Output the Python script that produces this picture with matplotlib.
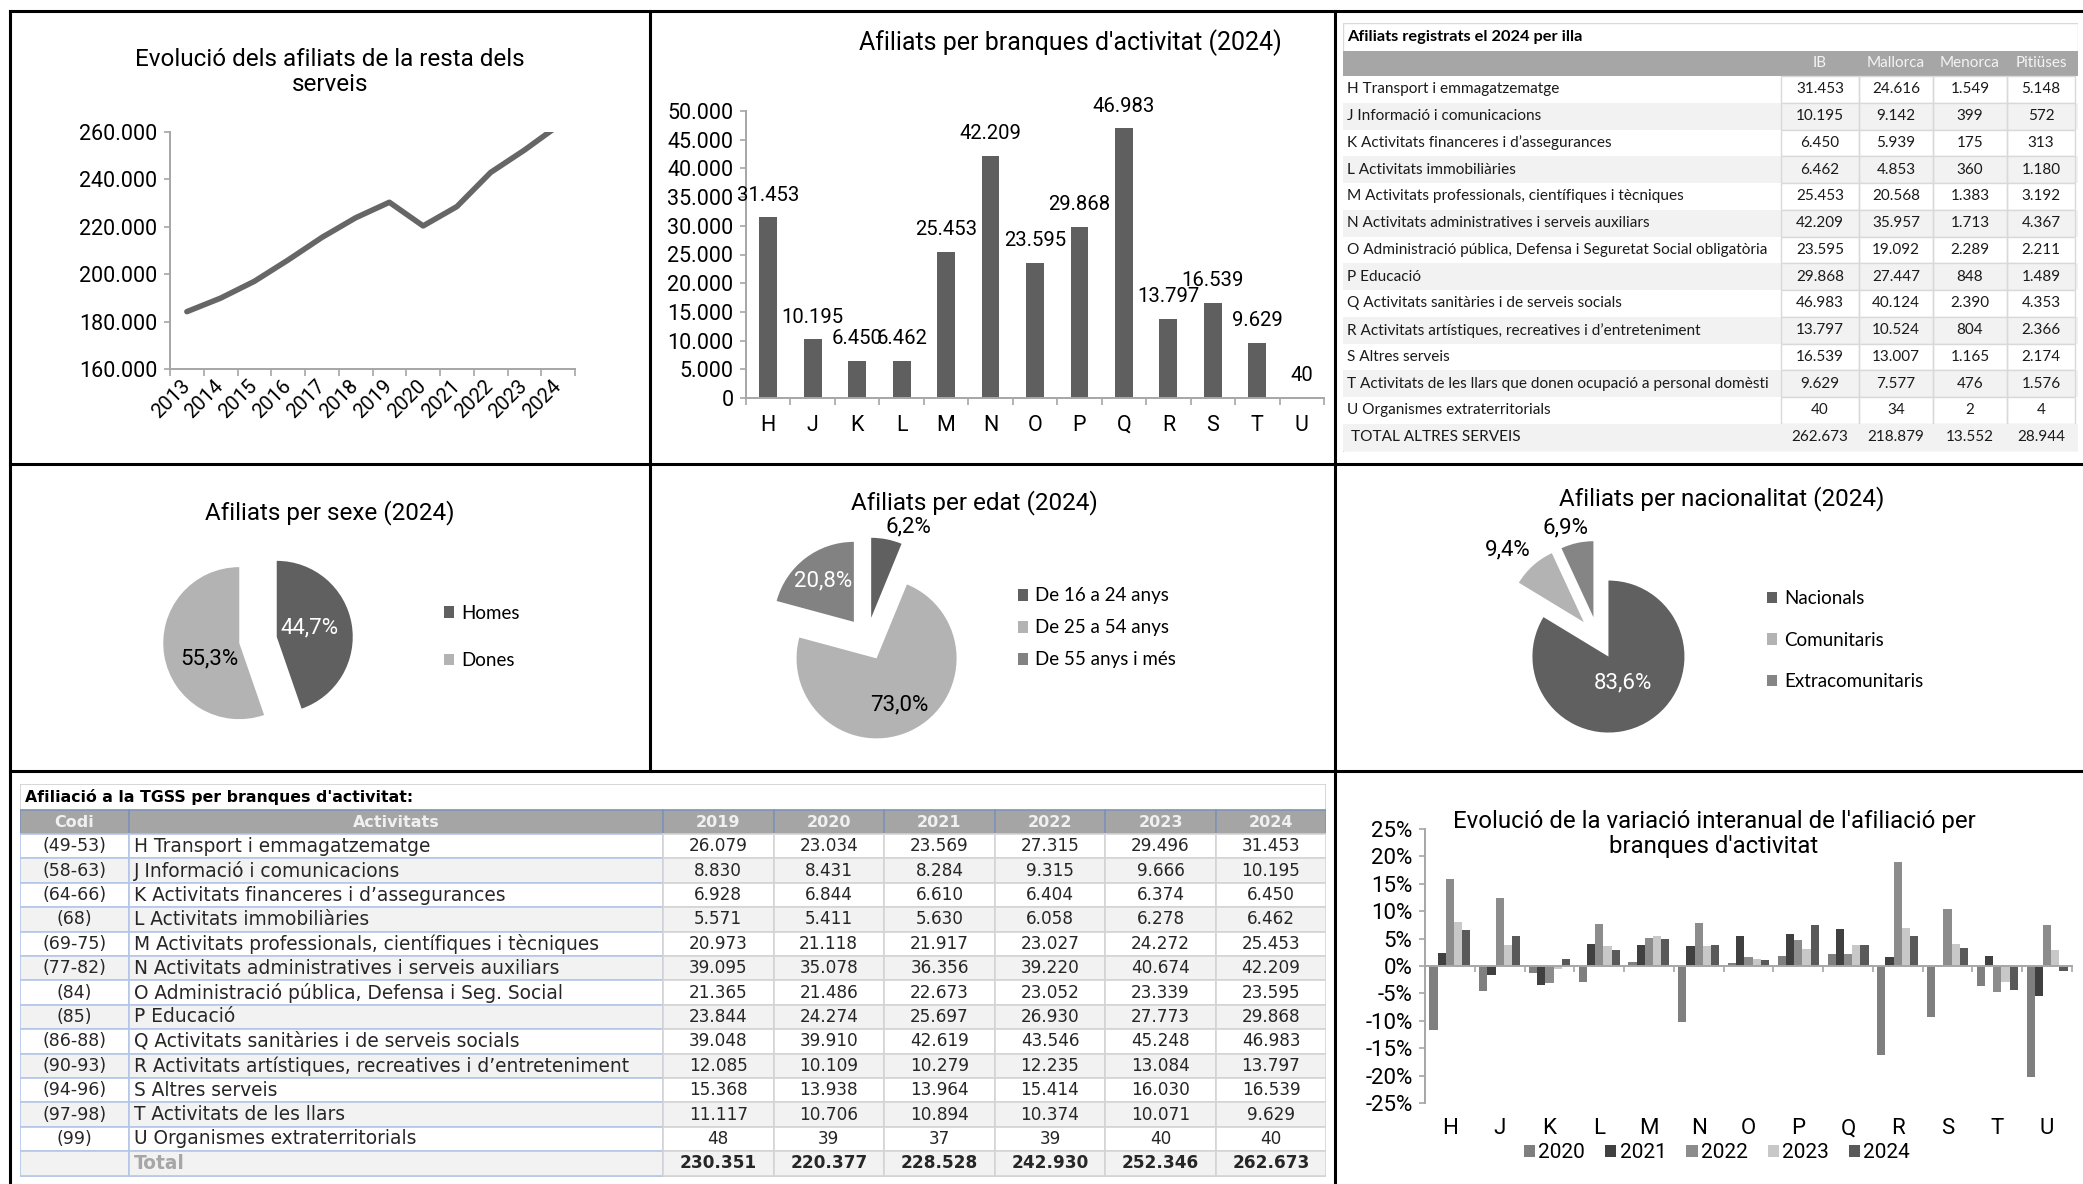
import numpy as np
import matplotlib
matplotlib.use('Agg')
import matplotlib.pyplot as plt
from matplotlib.patches import Rectangle
from matplotlib.lines import Line2D
from matplotlib.ticker import FuncFormatter

plt.rcParams['font.family'] = ['Roboto', 'DejaVu Sans']

# =====================================================================
# DATA
# =====================================================================
years_line = ['2013', '2014', '2015', '2016', '2017', '2018',
              '2019', '2020', '2021', '2022', '2023', '2024']
total_afiliats = [184200, 189900, 197000, 206000, 215500, 223800,
                  230351, 220377, 228528, 242930, 252346, 262673]

branques = ['H', 'J', 'K', 'L', 'M', 'N', 'O', 'P', 'Q', 'R', 'S', 'T', 'U']
afiliats_2024 = [31453, 10195, 6450, 6462, 25453, 42209, 23595,
                 29868, 46983, 13797, 16539, 9629, 40]

sexe_labels = ['Homes', 'Dones']
sexe_pct = [44.7, 55.3]
edat_labels = ['De 16 a 24 anys', 'De 25 a 54 anys', 'De 55 anys i més']
edat_pct = [6.2, 73.0, 20.8]
nac_labels = ['Nacionals', 'Comunitaris', 'Extracomunitaris']
nac_pct = [83.6, 9.4, 6.9]

# Afiliats registrats el 2024 per illa
illa_cols = ['IB', 'Mallorca', 'Menorca', 'Pitiüses']
illa_rows = ['H Transport i emmagatzematge',
             'J Informació i comunicacions',
             'K Activitats financeres i d’assegurances',
             'L Activitats immobiliàries',
             'M Activitats professionals, científiques i tècniques',
             'N Activitats administratives i serveis auxiliars',
             'O Administració pública, Defensa i Seguretat Social obligatòria',
             'P Educació',
             'Q Activitats sanitàries i de serveis socials',
             'R Activitats artístiques, recreatives i d’entreteniment',
             'S Altres serveis',
             'T Activitats de les llars que donen ocupació a personal domèsti',
             'U Organismes extraterritorials',
             'TOTAL ALTRES SERVEIS']
illa_ib = [31453, 10195, 6450, 6462, 25453, 42209, 23595, 29868, 46983,
           13797, 16539, 9629, 40, 262673]
illa_mallorca = [24616, 9142, 5939, 4853, 20568, 35957, 19092, 27447, 40124,
                 10524, 13007, 7577, 34, 218879]
illa_menorca = [1549, 399, 175, 360, 1383, 1713, 2289, 848, 2390,
                804, 1165, 476, 2, 13552]
illa_pitiuses = [5148, 572, 313, 1180, 3192, 4367, 2211, 1489, 4353,
                 2366, 2174, 1576, 4, 28944]

# Afiliació a la TGSS per branques d'activitat
tgss_codi = ['(49-53)', '(58-63)', '(64-66)', '(68)', '(69-75)', '(77-82)', '(84)',
             '(85)', '(86-88)', '(90-93)', '(94-96)', '(97-98)', '(99)', '']
tgss_activitats = ['H Transport i emmagatzematge',
                   'J Informació i comunicacions',
                   'K Activitats financeres i d’assegurances',
                   'L Activitats immobiliàries',
                   'M Activitats professionals, científiques i tècniques',
                   'N Activitats administratives i serveis auxiliars',
                   'O Administració pública, Defensa i Seg. Social',
                   'P Educació',
                   'Q Activitats sanitàries i de serveis socials',
                   'R Activitats artístiques, recreatives i d’entreteniment',
                   'S Altres serveis',
                   'T Activitats de les llars',
                   'U Organismes extraterritorials',
                   'Total']
tgss_years = ['2019', '2020', '2021', '2022', '2023', '2024']
tgss_2019 = [26079, 8830, 6928, 5571, 20973, 39095, 21365, 23844, 39048, 12085, 15368, 11117, 48, 230351]
tgss_2020 = [23034, 8431, 6844, 5411, 21118, 35078, 21486, 24274, 39910, 10109, 13938, 10706, 39, 220377]
tgss_2021 = [23569, 8284, 6610, 5630, 21917, 36356, 22673, 25697, 42619, 10279, 13964, 10894, 37, 228528]
tgss_2022 = [27315, 9315, 6404, 6058, 23027, 39220, 23052, 26930, 43546, 12235, 15414, 10374, 39, 242930]
tgss_2023 = [29496, 9666, 6374, 6278, 24272, 40674, 23339, 27773, 45248, 13084, 16030, 10071, 40, 252346]
tgss_2024 = [31453, 10195, 6450, 6462, 25453, 42209, 23595, 29868, 46983, 13797, 16539, 9629, 40, 262673]

# Variació interanual (%)
var_years = ['2020', '2021', '2022', '2023', '2024']
var_2020 = [-11.7, -4.5, -1.2, -2.9, 0.7, -10.3, 0.6, 1.8, 2.2, -16.3, -9.3, -3.7, -20.3]
var_2021 = [2.3, -1.7, -3.4, 4.0, 3.8, 3.6, 5.5, 5.9, 6.8, 1.7, 0.2, 1.8, -5.4]
var_2022 = [15.9, 12.4, -3.1, 7.6, 5.1, 7.9, 1.7, 4.8, 2.2, 19.0, 10.4, -4.8, 7.5]
var_2023 = [8.0, 3.8, -0.5, 3.6, 5.4, 3.7, 1.2, 3.1, 3.9, 6.9, 4.0, -2.9, 3.0]
var_2024 = [6.6, 5.5, 1.2, 2.9, 4.9, 3.8, 1.1, 7.5, 3.8, 5.5, 3.2, -4.4, -1.0]

# =====================================================================
# HELPERS
# =====================================================================
W, H = 2083, 1184
fig = plt.figure(figsize=(W / 100, H / 100), dpi=100)

AXIS_GREY = '#a6a6a6'
DARK, LIGHT, MID = '#606060', '#b3b3b3', '#828282'
TICK_FS = 15.5
TITLE_FS = 17.5


def px_axes(x0, y0, x1, y1):
    ax = fig.add_axes([x0 / W, 1 - y1 / H, (x1 - x0) / W, (y1 - y0) / H])
    ax.set_facecolor('none')
    return ax


def fig_xy(x, y):
    return x / W, 1 - y / H


def thousands(v):
    return f'{v:,.0f}'.replace(',', '.')


def pct_comma(p):
    return f'{p:.1f}%'.replace('.', ',')


def style_axes(ax):
    for s in ('top', 'right'):
        ax.spines[s].set_visible(False)
    for s in ('left', 'bottom'):
        ax.spines[s].set_color(AXIS_GREY)
        ax.spines[s].set_linewidth(1.4)
    ax.tick_params(axis='y', length=4, width=1.2, color=AXIS_GREY, labelsize=TICK_FS, pad=5)


def category_axis(ax, n):
    ax.set_xlim(-0.5, n - 0.5)
    ax.set_xticks(np.arange(n))
    ax.set_xticks(np.arange(n + 1) - 0.5, minor=True)
    ax.tick_params(axis='x', which='major', length=0, labelsize=TICK_FS)
    ax.tick_params(axis='x', which='minor', length=5, width=1.2, color=AXIS_GREY)


def pie_axes(cx, cy, r):
    L = 1.6
    return px_axes(cx - L * r, cy - L * r, cx + L * r, cy + L * r)


def fix_pie_limits(ax):
    # pie() resets the limits, so set them afterwards
    ax.set_xlim(-1.6, 1.6)
    ax.set_ylim(-1.6, 1.6)
    ax.set_aspect('equal')
    ax.axis('off')


def label_wedges(ax, wedges, values, dists, turns, colors):
    for w, v, d, t, c in zip(wedges, values, dists, turns, colors):
        th = np.deg2rad((w.theta1 + w.theta2) / 2 + t)
        x0, y0 = w.center
        ax.text(x0 + d * w.r * np.cos(th), y0 + d * w.r * np.sin(th), pct_comma(v),
                ha='center', va='center', color=c, fontsize=16)


def pie_legend(ax, wedges, labels, xy, spacing):
    ax.legend(wedges, labels, loc='center left', bbox_to_anchor=fig_xy(*xy),
              bbox_transform=fig.transFigure, frameon=False,
              prop=dict(family='Lato', size=13.5), handlelength=0.55, handleheight=0.55,
              handletextpad=0.35, labelspacing=spacing, borderpad=0, borderaxespad=0)


# =====================================================================
# PANEL FRAME
# =====================================================================
for xa, ya, xb_, yb in [(10, 11, W, 11), (10, 11, 10, H), (10, 464, W, 464),
                        (10, 771, W, 771), (650, 11, 650, 771), (1335, 11, 1335, H)]:
    fig.add_artist(Line2D([xa / W, xb_ / W], [1 - ya / H, 1 - yb / H],
                          color='black', lw=2.2, solid_capstyle='projecting'))

# =====================================================================
# 1. LINE CHART
# =====================================================================
ax1 = px_axes(170, 132, 575, 369)
style_axes(ax1)
ax1.plot(np.arange(len(years_line)), total_afiliats, color='#666666', lw=4,
         solid_joinstyle='round', solid_capstyle='round')
ax1.set_ylim(160000, 260000)
ax1.set_yticks(np.arange(160000, 260001, 20000))
ax1.yaxis.set_major_formatter(FuncFormatter(lambda v, _: thousands(v)))
category_axis(ax1, len(years_line))
ax1.set_xticklabels(years_line, rotation=45, ha='right', va='center',
                    rotation_mode='anchor', fontsize=14.5)
ax1.tick_params(axis='x', which='major', pad=10)
fig.text(*fig_xy(330, 72), 'Evolució dels afiliats de la resta dels\nserveis',
         ha='center', va='center', fontsize=TITLE_FS, linespacing=1.15)

# =====================================================================
# 2. BAR CHART 2024
# =====================================================================
ax2 = px_axes(746, 111, 1324, 398)
style_axes(ax2)
xb = np.arange(len(branques))
ax2.bar(xb, afiliats_2024, width=0.4, color='#5f5f5f')
ax2.set_ylim(0, 50000)
ax2.set_yticks(np.arange(0, 50001, 5000))
ax2.yaxis.set_major_formatter(FuncFormatter(lambda v, _: thousands(v)))
category_axis(ax2, len(branques))
ax2.set_xticklabels(branques)
ax2.tick_params(axis='x', which='major', pad=12)
for xi, v in zip(xb, afiliats_2024):
    ax2.annotate(thousands(v), (xi, v), xytext=(0, 16), textcoords='offset points',
                 ha='center', va='center', fontsize=14.6)
fig.text(*fig_xy(1070, 43), "Afiliats per branques d'activitat (2024)",
         ha='center', va='center', fontsize=TITLE_FS + 0.5)

# =====================================================================
# 3. PIES
# =====================================================================
ax_p1 = pie_axes(258, 640, 76)
w1, _ = ax_p1.pie(sexe_pct, colors=[DARK, LIGHT], startangle=90, counterclock=False,
                  explode=[0.25, 0.25])
fix_pie_limits(ax_p1)
label_wedges(ax_p1, w1, sexe_pct, [0.45, 0.44], [6, 18], ['white', 'black'])
pie_legend(ax_p1, w1, sexe_labels, (444, 637), 1.63)
fig.text(*fig_xy(330, 513), 'Afiliats per sexe (2024)', ha='center', va='center',
         fontsize=TITLE_FS)

ax_p2 = pie_axes(867, 639, 80)
w2, _ = ax_p2.pie(edat_pct, colors=[DARK, LIGHT, MID], startangle=90, counterclock=False,
                  explode=[0.27, 0.27, 0.27])
fix_pie_limits(ax_p2)
label_wedges(ax_p2, w2, edat_pct, [1.22, 0.65, 0.64], [-11, 0, 0], ['black', 'black', 'white'])
pie_legend(ax_p2, w2, edat_labels, (1018, 628), 0.8)
fig.text(*fig_xy(974, 503), 'Afiliats per edat (2024)', ha='center', va='center',
         fontsize=TITLE_FS)

ax_p3 = pie_axes(1598, 638, 76)
w3, _ = ax_p3.pie(nac_pct, colors=[DARK, LIGHT, '#858585'], startangle=90, counterclock=False,
                  explode=[0.28, 0.28, 0.28])
fix_pie_limits(ax_p3)
label_wedges(ax_p3, w3, nac_pct, [0.4, 1.38, 1.23], [0, 5, 5], ['white', 'black', 'black'])
pie_legend(ax_p3, w3, nac_labels, (1767, 640), 1.3)
fig.text(*fig_xy(1722, 499), 'Afiliats per nacionalitat (2024)', ha='center', va='center',
         fontsize=TITLE_FS)

# =====================================================================
# 4. TABLE: AFILIATS PER ILLA
# =====================================================================
ax5 = px_axes(1343, 23, 2078, 452)
ax5.set_xlim(0, 735)
ax5.set_ylim(429, 0)
ax5.axis('off')
ic = [0, 438, 516, 590, 664, 732]
head_top, head_h, row_h = 27.5, 25.5, 26.75
ax5.add_patch(Rectangle((0, 0), 735, 429, fc='white', ec='#d9d9d9', lw=1))
ax5.text(4, 14, 'Afiliats registrats el 2024 per illa', fontweight='bold', fontsize=11.8,
         family='Lato', va='center')
ax5.add_patch(Rectangle((0, head_top), 735, head_h, fc='#a6a6a6', ec='none'))
for j, name in enumerate(illa_cols):
    ax5.text((ic[j + 1] + ic[j + 2]) / 2, head_top + head_h / 2, name, ha='center',
             va='center', fontsize=11, family='Lato', color='#f4f4f4')
illa_values = list(zip(illa_ib, illa_mallorca, illa_menorca, illa_pitiuses))
for i, (label, vals) in enumerate(zip(illa_rows, illa_values)):
    y0 = head_top + head_h + i * row_h
    total = i == len(illa_rows) - 1
    ax5.add_patch(Rectangle((0, y0), 735, row_h, fc='#f2f2f2' if i % 2 else 'white', ec='none'))
    ax5.text(8 if total else 4, y0 + row_h / 2, label, va='center', fontsize=11.1,
             family='Lato', color='#1a1a1a')
    for j, v in enumerate(vals):
        xa, xz = ic[j + 1], ic[j + 2]
        if not total:
            ax5.add_patch(Rectangle((xa, y0), xz - xa, row_h, fc='none', ec='#d9d9d9', lw=1))
        ax5.text((xa + xz) / 2, y0 + row_h / 2, thousands(v), ha='center', va='center',
                 fontsize=11, family='Lato', color='#1a1a1a')

# =====================================================================
# 5. TABLE: TGSS
# =====================================================================
ax4 = px_axes(20, 784, 1326, 1178)
ax4.set_xlim(0, 1306)
ax4.set_ylim(394, 0)
ax4.axis('off')
tc = [0, 109, 643, 753.5, 864, 975, 1085, 1196, 1306]
t_head, t_head_h, t_row = 26, 24, 24.4
ax4.add_patch(Rectangle((0, 0), 1306, 392, fc='white', ec='#d0d0d0', lw=1.2))
ax4.text(5, 13, "Afiliació a la TGSS per branques d'activitat:", fontweight='bold',
         fontsize=11.3, family='DejaVu Sans', va='center')
headers = ['Codi', 'Activitats'] + tgss_years
for j, name in enumerate(headers):
    ax4.add_patch(Rectangle((tc[j], t_head), tc[j + 1] - tc[j], t_head_h, fc='#a5a5a5',
                            ec='#7f93b5', lw=1.2))
    ax4.text((tc[j] + tc[j + 1]) / 2, t_head + t_head_h / 2, name, ha='center', va='center',
             fontsize=11.5, fontweight='bold', family='DejaVu Sans', color='#f0f0f0')
tgss_values = list(zip(tgss_2019, tgss_2020, tgss_2021, tgss_2022, tgss_2023, tgss_2024))
for i, (codi, act, vals) in enumerate(zip(tgss_codi, tgss_activitats, tgss_values)):
    y0 = t_head + t_head_h + i * t_row
    total = i == len(tgss_codi) - 1
    bg = '#f2f2f2' if i % 2 else 'white'
    for j in range(len(headers)):
        ec = '#b4c6e7' if j < 2 else '#d4d4d4'
        ax4.add_patch(Rectangle((tc[j], y0), tc[j + 1] - tc[j], t_row, fc=bg, ec=ec, lw=1.2))
    ax4.text((tc[0] + tc[1]) / 2, y0 + t_row / 2, codi, ha='center', va='center',
             fontsize=12.5, family='DejaVu Sans', color='#262626')
    ax4.text(tc[1] + 5, y0 + t_row / 2, act, va='center', fontsize=13.4, family='DejaVu Sans',
             color='#a6a6a6' if total else '#262626', fontweight='bold' if total else 'normal')
    for j, v in enumerate(vals):
        ax4.text((tc[j + 2] + tc[j + 3]) / 2, y0 + t_row / 2, thousands(v), ha='center',
                 va='center', fontsize=12.2, family='DejaVu Sans', color='#262626',
                 fontweight='bold' if total else 'normal')

# =====================================================================
# 6. VARIACIÓ INTERANUAL
# =====================================================================
ax6 = px_axes(1425, 829, 2072, 1103)
style_axes(ax6)
ax6.tick_params(axis='y', labelsize=16)
var_series = [var_2020, var_2021, var_2022, var_2023, var_2024]
var_colors = ['#7f7f7f', '#404040', '#8c8c8c', '#c8c8c8', '#595959']
bw = 0.165
for i, (vals, col, yr) in enumerate(zip(var_series, var_colors, var_years)):
    ax6.bar(xb + (i - 2) * bw, vals, width=bw, color=col, label=yr)
ax6.set_ylim(-25, 25)
ax6.set_yticks(np.arange(-25, 26, 5))
ax6.yaxis.set_major_formatter(FuncFormatter(lambda v, _: f'{v:.0f}%'))
ax6.spines['bottom'].set_position(('data', 0))
ax6.set_xlim(-0.5, len(branques) - 0.5)
ax6.set_xticks(np.arange(len(branques) + 1) - 0.5)
ax6.tick_params(axis='x', length=4, width=1.2, color=AXIS_GREY, labelbottom=False)
sec = ax6.secondary_xaxis(0)
sec.set_xticks(xb, labels=branques)
sec.tick_params(length=0, pad=11, labelsize=16)
sec.spines['bottom'].set_visible(False)
ax6.legend(ncol=5, loc='center', bbox_to_anchor=fig_xy(1717, 1153),
           bbox_transform=fig.transFigure, frameon=False, fontsize=15, handlelength=0.55,
           handleheight=0.55, handletextpad=0.15, columnspacing=0.95, borderpad=0)
fig.text(*fig_xy(1714, 834), "Evolució de la variació interanual de l'afiliació per\nbranques d'activitat",
         ha='center', va='center', fontsize=17.3, linespacing=1.1)

fig.savefig('out.png', dpi=100, facecolor='white')
